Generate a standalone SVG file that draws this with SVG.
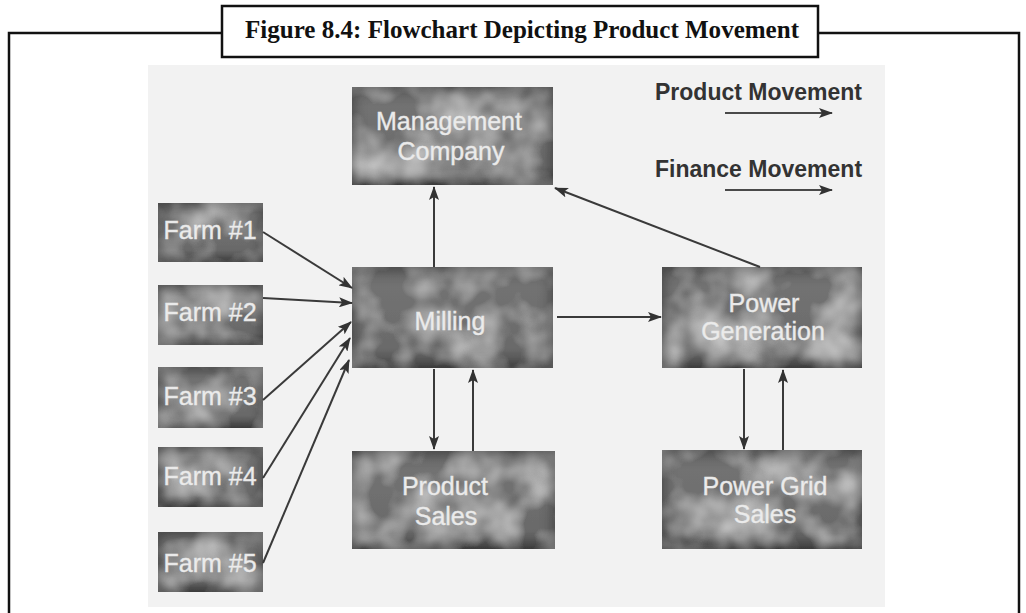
<svg xmlns="http://www.w3.org/2000/svg" width="1026" height="613" viewBox="0 0 1026 613">
  <style>
    .frame { fill: none; stroke: #111; stroke-width: 2.5; }
    .title { font-family: "Liberation Serif", "DejaVu Serif", serif; font-weight: bold; font-size: 26px; fill: #111; }
    .box { fill: url(#boxShade); filter: url(#mottle); }
    .label { font-family: "Liberation Sans", Arial, sans-serif; font-size: 25px; fill: #ececec; stroke: #e6e6e6; stroke-width: 0.4; text-anchor: middle; }
    .legend { font-family: "Liberation Sans", Arial, sans-serif; font-weight: bold; font-size: 23px; fill: #333; }
    .conn { stroke: #3a3a3a; stroke-width: 2; fill: none; marker-end: url(#head); }
    .legend-arrow { stroke: #4a4a4a; stroke-width: 2.2; fill: none; marker-end: url(#head); }
  </style>
  <defs>
    <linearGradient id="boxShade" x1="0" y1="0" x2="0" y2="1">
      <stop offset="0" stop-color="#676767"/>
      <stop offset="0.2" stop-color="#727272"/>
      <stop offset="0.8" stop-color="#6a6a6a"/>
      <stop offset="0.93" stop-color="#585858"/>
      <stop offset="1" stop-color="#4c4c4c"/>
    </linearGradient>
    <!-- soft cloudy texture and darkened rim for the node fill -->
    <filter id="mottle" x="0" y="0" width="100%" height="100%">
      <feTurbulence type="fractalNoise" baseFrequency="0.022" numOctaves="3" seed="11" result="noise"/>
      <feColorMatrix in="noise" type="matrix" values="0 0 0 0 1  0 0 0 0 1  0 0 0 0 1  0.9 0 0 0 -0.32" result="light"/>
      <feComposite in="light" in2="SourceAlpha" operator="in" result="lightIn"/>
      <feMorphology in="SourceAlpha" operator="erode" radius="5" result="core"/>
      <feGaussianBlur in="core" stdDeviation="5" result="coreSoft"/>
      <feFlood flood-color="#262626" flood-opacity="0.55" result="dark"/>
      <feComposite in="dark" in2="coreSoft" operator="out" result="rim"/>
      <feComposite in="rim" in2="SourceAlpha" operator="in" result="rimIn"/>
      <feMerge>
        <feMergeNode in="SourceGraphic"/>
        <feMergeNode in="lightIn"/>
        <feMergeNode in="rimIn"/>
      </feMerge>
    </filter>
    <marker id="head" markerUnits="userSpaceOnUse" markerWidth="14" markerHeight="10" viewBox="0 0 14 10" refX="13" refY="5" orient="auto">
      <path d="M0,0 L14,5 L0,10 L3,5 z" fill="#333"/>
    </marker>
  </defs>

  <rect width="1026" height="613" fill="#fff"/>

  <!-- outer frame with title box -->
  <g id="frame">
    <polyline class="frame" points="9,613 9,33 222,33"/>
    <polyline class="frame" points="818,33 1019,33 1019,613"/>
    <rect class="frame" x="222" y="6" width="596" height="51" fill="#fff"/>
    <text class="title" x="522" y="38" text-anchor="middle" textLength="554" lengthAdjust="spacingAndGlyphs">Figure 8.4: Flowchart Depicting Product Movement</text>
  </g>

  <!-- light panel behind the chart -->
  <rect x="148" y="65" width="737" height="542" fill="#f2f2f2"/>

  <!-- legend -->
  <g id="legend">
    <text class="legend" x="655" y="100">Product Movement</text>
    <line class="legend-arrow" x1="725" y1="113" x2="832" y2="113"/>
    <text class="legend" x="655" y="177">Finance Movement</text>
    <line class="legend-arrow" x1="725" y1="190" x2="832" y2="190"/>
  </g>

  <!-- nodes -->
  <g id="management">
    <rect class="box" x="352" y="87" width="201" height="98"/>
    <text class="label" x="449" y="130">Management</text>
    <text class="label" x="451" y="160">Company</text>
  </g>
  <g id="farm1">
    <rect class="box" x="158" y="203" width="105" height="59"/>
    <text class="label" x="210" y="239">Farm #1</text>
  </g>
  <g id="farm2">
    <rect class="box" x="158" y="285" width="105" height="60"/>
    <text class="label" x="210" y="321">Farm #2</text>
  </g>
  <g id="farm3">
    <rect class="box" x="158" y="367" width="105" height="61"/>
    <text class="label" x="210" y="405">Farm #3</text>
  </g>
  <g id="farm4">
    <rect class="box" x="158" y="447" width="105" height="60"/>
    <text class="label" x="210" y="485">Farm #4</text>
  </g>
  <g id="farm5">
    <rect class="box" x="158" y="532" width="105" height="60"/>
    <text class="label" x="210" y="572">Farm #5</text>
  </g>
  <g id="milling">
    <rect class="box" x="352" y="267" width="201" height="101"/>
    <text class="label" x="450" y="330">Milling</text>
  </g>
  <g id="product-sales">
    <rect class="box" x="352" y="451" width="203" height="98"/>
    <text class="label" x="445" y="495">Product</text>
    <text class="label" x="446" y="525">Sales</text>
  </g>
  <g id="power-generation">
    <rect class="box" x="662" y="267" width="200" height="101"/>
    <text class="label" x="764" y="312">Power</text>
    <text class="label" x="763" y="340">Generation</text>
  </g>
  <g id="power-grid-sales">
    <rect class="box" x="662" y="450" width="200" height="99"/>
    <text class="label" x="765" y="495">Power Grid</text>
    <text class="label" x="765" y="523">Sales</text>
  </g>

  <!-- connectors -->
  <g id="connectors">
    <line class="conn" x1="263" y1="232" x2="352" y2="288"/>
    <line class="conn" x1="263" y1="298" x2="352" y2="303"/>
    <line class="conn" x1="263" y1="400" x2="351" y2="322"/>
    <line class="conn" x1="263" y1="478" x2="350" y2="338"/>
    <line class="conn" x1="263" y1="563" x2="349" y2="360"/>
    <line class="conn" x1="434" y1="267" x2="434" y2="187"/>
    <line class="conn" x1="760" y1="267" x2="555" y2="188"/>
    <line class="conn" x1="557" y1="317" x2="661" y2="317"/>
    <line class="conn" x1="434" y1="369" x2="434" y2="449"/>
    <line class="conn" x1="473" y1="451" x2="473" y2="370"/>
    <line class="conn" x1="744" y1="369" x2="744" y2="449"/>
    <line class="conn" x1="783" y1="450" x2="783" y2="370"/>
  </g>
</svg>
